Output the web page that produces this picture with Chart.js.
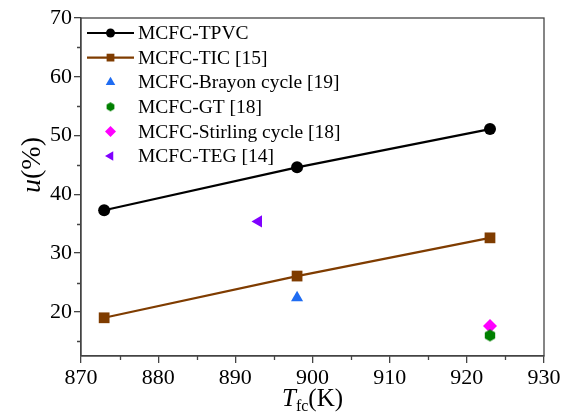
<!DOCTYPE html>
<html>
<head>
<meta charset="utf-8">
<script src="https://cdn.jsdelivr.net/npm/chart.js@4.4.1/dist/chart.umd.min.js"></script>
<style>
  html, body { margin: 0; padding: 0; background: #fff; }
  #wrap { width: 573px; height: 418px; }
</style>
</head>
<body>
<div id="wrap"><canvas id="chart" width="573" height="418"></canvas></div>
<script>
// values
const tempsMain = [873, 898, 923];
const tpvcVals = [37.3, 44.6, 51.1];
const ticVals = [19.0, 26.1, 32.6];
const braytonT = [898], braytonVals = [22.4];
const gtT = [923], gtVals = [16.0];
const stirlingT = [923], stirlingVals = [17.6];
const tegT = [893], tegVals = [35.4];

const seriesNames = ['MCFC-TPVC', 'MCFC-TIC [15]', 'MCFC-Brayon cycle [19]',
  'MCFC-GT [18]', 'MCFC-Stirling cycle [18]', 'MCFC-TEG [14]'];
const xMajor = [870, 880, 890, 900, 910, 920, 930];
const yMajor = [20, 30, 40, 50, 60, 70];

const serif = '"Liberation Serif", "DejaVu Serif", serif';
const axisColor = '#444';

function toPts(xs, ys) { return xs.map((x, i) => ({ x: x, y: ys[i] })); }

// hexagon marker for the GT point
function hexagon(color, r) {
  const c = document.createElement('canvas');
  c.width = c.height = r * 2 + 2;
  const g = c.getContext('2d');
  g.fillStyle = color;
  g.beginPath();
  for (let i = 0; i < 6; i++) {
    const a = Math.PI / 6 + i * Math.PI / 3;
    const px = r + 1 + r * Math.cos(a), py = r + 1 + r * Math.sin(a);
    i ? g.lineTo(px, py) : g.moveTo(px, py);
  }
  g.closePath();
  g.fill();
  return c;
}
const hexImg = hexagon('#008000', 6);
const hexSmall = hexagon('#008000', 4.5);

const datasets = [
  { label: seriesNames[0], data: toPts(tempsMain, tpvcVals), showLine: true,
    borderColor: '#000', backgroundColor: '#000', borderWidth: 2.2,
    pointStyle: 'circle', pointRadius: 6, pointBorderWidth: 0, legendR: 4.5 },
  { label: seriesNames[1], data: toPts(tempsMain, ticVals), showLine: true,
    borderColor: '#7f3c00', backgroundColor: '#7f3c00', borderWidth: 2.2,
    pointStyle: 'rect', pointRadius: 7.6, pointBorderWidth: 0, legendR: 5.5 },
  { label: seriesNames[2], data: toPts(braytonT, braytonVals),
    backgroundColor: '#1f6cf2', borderColor: '#1f6cf2',
    pointStyle: 'triangle', pointRadius: 7, pointBorderWidth: 0, legendR: 5.5 },
  { label: seriesNames[3], data: toPts(gtT, gtVals),
    backgroundColor: '#008000', borderColor: '#008000',
    pointStyle: hexImg, pointRadius: 6, pointBorderWidth: 0, legendR: 4.5, legendStyle: hexSmall },
  { label: seriesNames[4], data: toPts(stirlingT, stirlingVals),
    backgroundColor: '#ff00ff', borderColor: '#ff00ff',
    pointStyle: 'rectRot', pointRadius: 7, pointBorderWidth: 0, legendR: 5.5 },
  { label: seriesNames[5], data: toPts(tegT, tegVals),
    backgroundColor: '#8000ff', borderColor: '#8000ff',
    pointStyle: 'triangle', rotation: -90, pointRotation: -90, pointRadius: 7, pointBorderWidth: 0, legendR: 5.5 }
];

// frame, minor ticks, axis titles and legend
const decorations = {
  id: 'decorations',
  afterDraw(chart) {
    const { ctx, chartArea: a, scales } = chart;
    const xs = scales.x, ys = scales.y;
    ctx.save();
    ctx.strokeStyle = axisColor;
    ctx.lineWidth = 1.3;
    ctx.strokeRect(a.left, a.top, a.right - a.left, a.bottom - a.top);

    // minor ticks
    ctx.beginPath();
    for (let v = 875; v < 930; v += 10) {
      const px = Math.round(xs.getPixelForValue(v)) + 0.5;
      ctx.moveTo(px, a.bottom); ctx.lineTo(px, a.bottom + 4);
    }
    for (let v = 15; v < 70; v += 10) {
      const py = Math.round(ys.getPixelForValue(v)) + 0.5;
      ctx.moveTo(a.left, py); ctx.lineTo(a.left - 4, py);
    }
    ctx.stroke();

    // x title: T_fc(K)
    ctx.fillStyle = '#000';
    ctx.textBaseline = 'alphabetic';
    const big = '25px ' + serif, small = '16px ' + serif, ital = 'italic 25px ' + serif;
    ctx.font = ital; const wT = ctx.measureText('T').width;
    ctx.font = small; const wSub = ctx.measureText('fc').width;
    ctx.font = big; const wK = ctx.measureText('(K)').width;
    let x0 = (a.left + a.right) / 2 - (wT + wSub + wK) / 2;
    const by = 406;
    ctx.font = ital; ctx.fillText('T', x0, by);
    ctx.font = small; ctx.fillText('fc', x0 + wT, by + 5);
    ctx.font = big; ctx.fillText('(K)', x0 + wT + wSub, by);

    // y title: u(%)
    ctx.save();
    ctx.translate(40, 165);
    ctx.rotate(-Math.PI / 2);
    const yBig = '28px ' + serif, yIt = 'italic 28px ' + serif;
    ctx.font = yIt; const wu = ctx.measureText('u').width;
    ctx.font = yBig; const wp = ctx.measureText('(%)').width;
    const sx = -(wu + wp) / 2;
    ctx.font = yIt; ctx.fillText('u', sx, 0);
    ctx.font = yBig; ctx.fillText('(%)', sx + wu, 0);
    ctx.restore();

    // legend
    const lx = 87, lx2 = 134, tx = 138;
    ctx.font = '19.5px ' + serif;
    ctx.textBaseline = 'middle';
    chart.data.datasets.forEach((ds, i) => {
      const y = 33 + i * 24.6;
      const mx = (lx + lx2) / 2;
      if (ds.showLine) {
        ctx.strokeStyle = ds.borderColor;
        ctx.lineWidth = ds.borderWidth;
        ctx.beginPath(); ctx.moveTo(lx, y); ctx.lineTo(lx2, y); ctx.stroke();
      }
      ctx.fillStyle = ds.backgroundColor;
      if (Chart.helpers && Chart.helpers.drawPoint) {
        Chart.helpers.drawPoint(ctx, {
          pointStyle: ds.legendStyle || ds.pointStyle, radius: ds.legendR,
          rotation: ds.pointRotation || 0, borderWidth: 0
        }, mx, y);
      }
      ctx.fillStyle = '#000';
      ctx.fillText(ds.label, tx, y + 1);
    });
    ctx.restore();
  }
};

const majorOnly = (list) => (scale) => {
  scale.ticks = list.map(v => ({ value: v }));
};

new Chart(document.getElementById('chart'), {
  type: 'scatter',
  data: { datasets: datasets },
  options: {
    responsive: false,
    animation: false,
    layout: { padding: { top: 18, right: 29, left: 0, bottom: 0 } },
    plugins: { legend: { display: false }, tooltip: { enabled: false } },
    elements: { line: { tension: 0 } },
    scales: {
      x: {
        type: 'linear', min: 870, max: 930,
        afterBuildTicks: majorOnly(xMajor),
        afterFit(s) { s.height = 62; },
        grid: { drawOnChartArea: false, tickLength: 7, color: axisColor, lineWidth: 1.3 },
        border: { color: axisColor, width: 1.3 },
        ticks: { color: '#000', font: { family: serif, size: 22 }, padding: 2, maxRotation: 0 }
      },
      y: {
        type: 'linear', min: 12.5, max: 70,
        afterBuildTicks: majorOnly(yMajor),
        afterFit(s) { s.width = 81; },
        grid: { drawOnChartArea: false, tickLength: 7, color: axisColor, lineWidth: 1.3 },
        border: { color: axisColor, width: 1.3 },
        ticks: { color: '#000', font: { family: serif, size: 22 }, padding: 2 }
      }
    }
  },
  plugins: [decorations]
});
</script>
</body>
</html>
